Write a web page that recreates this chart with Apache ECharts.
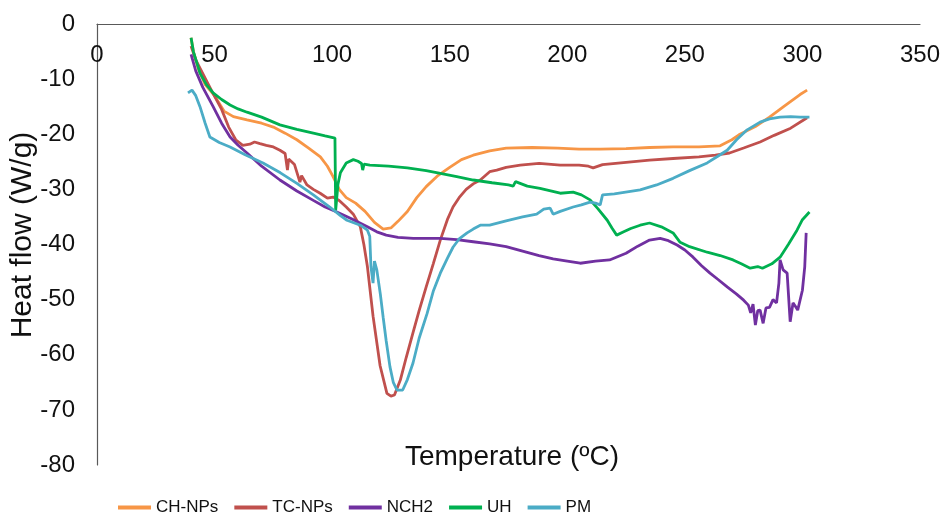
<!DOCTYPE html>
<html lang="en">
<head>
    <meta charset="UTF-8">
    <title>Heat flow</title>
    <script src="https://cdn.jsdelivr.net/npm/echarts@6/dist/echarts.min.js"></script>
    <style type="text/css">
    body { margin: 0; }
    .chart {
        width: 943px;
        height: 514px;
    }
    </style>
</head>
<body>
    <div id="chart" class="chart" style="width:943px;height:514px"></div>
<script type="text/javascript">
var names = ['CH-NPs', 'TC-NPs', 'NCH2', 'UH', 'PM']
var xTicks = [0, 50, 100, 150, 200, 250, 300, 350]
var yTicks = [-80, -70, -60, -50, -40, -30, -20, -10, 0]

// [temperature, heat flow]
var chNPs = [[40,-2.5],[41,-5],[43,-8],[46,-11],[50,-13],[54,-15.8],[58,-16.8],[63.8,-17.4],[70,-18],[75,-18.7],[80,-19.8],[85,-21],[90,-22.5],[95,-24.1],[98,-25.8],[100.4,-27.7],[103,-30],[106,-31.5],[110,-32.5],[114,-34],[118,-36],[121.7,-37.2],[125,-37],[128,-35.8],[132,-34],[136,-31.5],[140,-29.5],[145,-27.5],[150,-26],[155,-24.6],[160,-23.8],[167,-23],[174,-22.5],[185,-22.4],[196,-22.5],[205,-22.7],[214,-22.7],[225,-22.6],[235,-22.4],[245,-22.3],[256,-22.3],[265,-22.1],[270,-21],[273,-20.1],[280,-18.6],[286,-16.9],[292,-15],[299,-12.8],[302,-12]]
var tcNPs = [[40,-4],[42,-6.5],[45,-9],[49,-12.3],[53,-15.5],[56,-18.7],[59,-21],[62,-22],[65,-21.8],[67,-21.4],[69.3,-21.7],[72,-22],[75,-22.3],[77.8,-22.9],[80,-23.5],[81,-26.5],[81.5,-24.5],[82,-24.7],[84,-25.5],[86.3,-28.7],[87,-27.5],[89.3,-29.2],[92,-30],[94.9,-30.7],[98,-31.6],[100.4,-31.4],[103,-32],[106,-33.2],[109,-34.5],[112,-36.8],[113.5,-40],[115,-44],[117.4,-53],[120.4,-62],[123.3,-67],[125,-67.5],[126.5,-67.3],[129,-64.6],[131.5,-60.5],[134.4,-56],[137,-52],[140,-47.7],[143,-43.5],[146,-39.2],[149,-35.5],[151.4,-33.2],[154,-31.5],[157,-30],[160,-29],[163,-28.3],[167,-26.8],[170,-26.5],[174,-26],[180,-25.6],[188,-25.3],[197,-25.6],[205,-25.6],[209,-25.8],[211,-26.1],[215,-25.5],[225,-25.1],[235,-24.7],[245,-24.4],[256,-24.1],[263,-23.8],[269,-23.4],[275,-22.5],[282,-21.4],[288,-20.2],[295,-18.9],[302,-17]]
var nch2 = [[40,-5.5],[42,-8.5],[45,-11.5],[49.4,-15],[53,-18],[56.6,-20.5],[60,-22],[63.8,-23.4],[70,-25.8],[77.8,-28.3],[85,-30.3],[92,-32],[97,-33.2],[102,-34.1],[108,-35.3],[115,-36.8],[119,-37.7],[123,-38.3],[128,-38.7],[134.5,-38.9],[140,-38.9],[146,-38.9],[153,-39.1],[160,-39.5],[167,-39.9],[174,-40.4],[181,-41.2],[188,-42],[194,-42.6],[200,-43],[205.5,-43.4],[212,-43],[218,-42.8],[225,-41.6],[230,-40.3],[235,-39.2],[239.5,-38.9],[243,-39.3],[246.7,-40.1],[250,-41],[253.5,-42.3],[257,-43.8],[260.7,-45.2],[264,-46.3],[268,-47.7],[272,-49],[275,-50.1],[277,-51],[278,-52.4],[279,-50.8],[280,-54.6],[281,-52],[282,-51.9],[283.3,-54.3],[284.5,-51.5],[286,-51.4],[287.5,-50],[289,-50.6],[290,-47],[290.5,-42.8],[291.8,-44.6],[293.5,-45.2],[294.8,-54],[296,-50.6],[297,-51.2],[298,-51.9],[300,-48.3],[301,-44],[301.6,-37.9]]
var uh = [[40,-2.5],[41,-5],[43.8,-8.9],[46.5,-11],[49.4,-12.5],[53,-13.7],[56.6,-14.7],[60,-15.4],[63.8,-16],[70,-16.9],[77.8,-18.3],[85,-19.1],[92,-19.8],[97,-20.3],[101.2,-20.7],[101.5,-33.8],[102.5,-29],[103.5,-27],[106,-25.2],[109,-24.6],[111,-24.9],[112.5,-25.3],[113,-26.5],[113.6,-25.4],[116,-25.6],[124,-25.8],[132,-26.1],[140,-26.6],[146,-27.1],[153,-27.7],[160,-28.3],[168,-28.8],[175,-29.2],[177,-29.4],[178,-28.6],[183,-29.4],[188.4,-29.8],[197,-30.7],[202.5,-30.5],[206,-31],[209.7,-31.9],[213,-33.5],[217,-35.6],[219,-37],[221,-38.3],[224,-37.7],[227,-37.1],[231,-36.5],[235,-36.1],[240,-36.8],[245,-37.9],[248,-39.6],[252,-40.4],[259.5,-41.4],[265,-42],[270.5,-42.8],[274,-43.5],[277.8,-44.3],[281,-44],[283,-44.3],[287,-43.5],[290.5,-42.3],[294,-40],[297.7,-37.4],[300,-35.5],[303,-34.1]]
var pm = [[38.7,-12.5],[40.4,-12],[42,-13],[43.8,-15],[46,-18],[48,-20.5],[52,-21.5],[56.6,-22.3],[63,-23.7],[70.6,-25.2],[78,-27],[85,-28.9],[92,-31],[99,-33.2],[103.4,-34.7],[106.3,-35.6],[112,-36.5],[115,-37.4],[116,-38.5],[116.5,-44],[117.4,-47],[118,-43],[119,-44.6],[120.5,-49],[121.7,-53.2],[123,-57.5],[124.6,-62.2],[126,-65],[127.6,-66.4],[130,-66.4],[132,-64.5],[134.4,-61.5],[137,-57],[140.4,-52.5],[143,-48.5],[146,-45.2],[149,-42.5],[151.4,-40.5],[154,-39],[157.4,-37.9],[160,-37.2],[163,-36.5],[167,-36.5],[174,-35.7],[181,-35],[187,-34.5],[190,-33.6],[192.7,-33.4],[194,-34.5],[197,-34],[202.5,-33.2],[206,-32.8],[209.7,-32.3],[212,-32.5],[214,-32.8],[215,-31],[220,-30.8],[231,-30.1],[238,-29.2],[245,-28],[252,-26.6],[259.5,-25.2],[264,-24],[268,-22.9],[272,-21],[276.5,-19.2],[282,-17.8],[286,-17.2],[290.5,-16.9],[295,-16.8],[299,-16.9],[303,-16.9]]

var allData = [chNPs, tcNPs, nch2, uh, pm]
var colors = ['#F79646', '#C0504D', '#7030A0', '#00B050', '#4BACC6']
var font = "'Liberation Sans', Arial, sans-serif"

var myChart = echarts.init(document.getElementById('chart'))

var seriesArr = names.map(function (n, i) {
    return {
        name: n,
        type: 'line',
        showSymbol: false,
        symbol: 'none',
        color: colors[i],
        lineStyle: { width: 2.8, color: colors[i] },
        data: allData[i]
    }
})

var option = {
    animation: false,
    backgroundColor: '#fff',
    textStyle: { fontFamily: font },
    grid: { left: 97, top: 24, right: 23, bottom: 49 },
    xAxis: {
        type: 'value',
        position: 'top',
        min: xTicks[0],
        max: xTicks[xTicks.length - 1],
        interval: 50,
        axisLine: { onZero: false, lineStyle: { color: '#595959', width: 1.2 } },
        axisTick: { show: false },
        splitLine: { show: false },
        axisLabel: { inside: true, margin: 19, fontSize: 24, color: '#111', fontFamily: font }
    },
    yAxis: {
        type: 'value',
        min: yTicks[0],
        max: yTicks[yTicks.length - 1],
        interval: 10,
        axisLine: { show: true, onZero: false, lineStyle: { color: '#595959', width: 1.2 } },
        axisTick: { show: false },
        splitLine: { show: false },
        axisLabel: { margin: 22, fontSize: 24, color: '#111', fontFamily: font }
    },
    legend: {
        data: names,
        left: 113,
        top: 494,
        icon: 'rect',
        itemWidth: 33,
        itemHeight: 4,
        itemGap: 16,
        textStyle: { fontSize: 17, color: '#111', fontFamily: font }
    },
    graphic: [
        {
            type: 'text',
            x: 512,
            y: 457,
            style: { text: 'Temperature (ºC)', font: '28px ' + font, fill: '#111', textAlign: 'center', textVerticalAlign: 'middle' }
        },
        {
            type: 'text',
            x: 23,
            y: 235,
            rotation: Math.PI / 2,
            style: { text: 'Heat flow (W/g)', font: '30px ' + font, fill: '#111', textAlign: 'center', textVerticalAlign: 'middle' }
        }
    ],
    series: seriesArr
}
myChart.setOption(option)
</script>
</body>
</html>
